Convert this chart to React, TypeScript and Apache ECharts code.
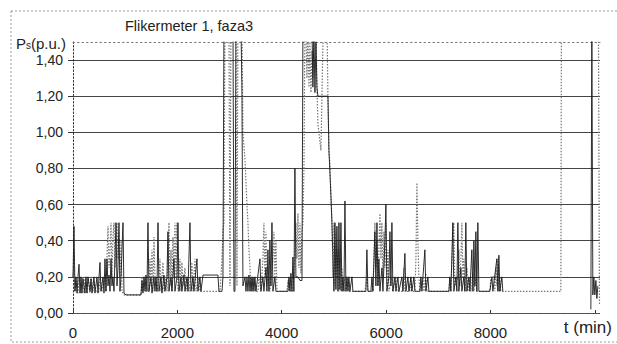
import React, { useEffect, useRef } from "react";
import * as echarts from "echarts";

const titleText = "Flikermeter 1, faza3";
const xTickLabels = [0, 2000, 4000, 6000, 8000];

// Black solid series: [t (min), Ps (p.u.)]
const blackSeries: [number, number | null][] = [
  [0, 0.2], [19, 0.48], [38, 0.12], [57, 0.2], [77, 0.11], [96, 0.2], [115, 0.27], [134, 0.11],
  [153, 0.2], [172, 0.11], [192, 0.19], [230, 0.11], [249, 0.2], [268, 0.11], [287, 0.2], [326, 0.12],
  [345, 0.19], [364, 0.11], [402, 0.2], [421, 0.11], [460, 0.2], [479, 0.11], [517, 0.28], [536, 0.12],
  [575, 0.2], [594, 0.11], [613, 0.3], [632, 0.12], [651, 0.3], [671, 0.15], [690, 0.21], [709, 0.12],
  [728, 0.3], [747, 0.15], [766, 0.2], [786, 0.12], [824, 0.5], [843, 0.15], [862, 0.25], [881, 0.5],
  [900, 0.12], [920, 0.2], [958, 0.5], [977, 0.11], [1015, 0.1], [1303, 0.1], [1322, 0.18], [1341, 0.11],
  [1360, 0.2], [1380, 0.12], [1399, 0.21], [1418, 0.12], [1437, 0.5], [1456, 0.12], [1494, 0.2], [1514, 0.11],
  [1552, 0.2], [1571, 0.12], [1590, 0.2], [1609, 0.12], [1629, 0.5], [1648, 0.12], [1686, 0.2], [1705, 0.11],
  [1744, 0.21], [1763, 0.12], [1801, 0.2], [1820, 0.45], [1839, 0.12], [1878, 0.2], [1897, 0.12], [1935, 0.3],
  [1954, 0.12], [1993, 0.2], [2012, 0.5], [2031, 0.12], [2069, 0.2], [2088, 0.12], [2127, 0.21], [2146, 0.12],
  [2184, 0.2], [2203, 0.12], [2242, 0.5], [2261, 0.12], [2299, 0.2], [2318, 0.12], [2376, 0.3], [2395, 0.12],
  [2433, 0.2], [2452, 0.12], [2491, 0.21], [2778, 0.21], [2797, 0.12], [2855, 0.12], [2874, 0.2], [2893, 1.6],
  [3066, 1.6], [3085, 0.12], [3104, 0.12], [3123, 1.6], [3219, 1.6], [3238, 1.22], [3257, 0.15], [3296, 0.2],
  [3315, 0.12], [3334, 0.2], [3353, 0.12], [3372, 0.21], [3392, 0.12], [3411, 0.2], [3430, 0.12], [3449, 0.2],
  [3468, 0.12], [3487, 0.2], [3506, 0.12], [3583, 0.3], [3602, 0.12], [3640, 0.2], [3659, 0.12], [3698, 0.25],
  [3717, 0.12], [3736, 0.35], [3755, 0.12], [3774, 0.4], [3794, 0.15], [3813, 0.5], [3832, 0.12], [3870, 0.2],
  [3889, 0.12], [4119, 0.12], [4138, 0.2], [4157, 0.12], [4177, 0.22], [4196, 0.12], [4215, 0.31], [4234, 0.12],
  [4253, 0.8], [4272, 0.2], [4311, 0.2], [4349, 0.18], [4388, 0.18], [4407, 1.6], [4579, 1.6], [4598, 1.25],
  [4618, 1.55], [4637, 1.22], [4656, 1.5], [4675, 1.25], [4694, 1.2], [4886, 1.2], [4905, 0.9], [4943, 0.65],
  [4962, 0.5], [5001, 0.12], [5020, 0.5], [5039, 0.13], [5058, 0.48], [5078, 0.12], [5097, 0.5],
  [5116, 0.13], [5135, 0.5], [5154, 0.12], [5173, 0.2], [5193, 0.12], [5212, 0.62], [5231, 0.12], [5250, 0.2],
  [5269, 0.12], [5288, 0.2], [5307, 0.12], [5346, 0.2], [5365, 0.12], [5614, 0.12], [5633, 0.35], [5652, 0.12],
  [5710, 0.12], [5729, 0.2], [5748, 0.12], [5786, 0.45], [5805, 0.15], [5825, 0.5], [5844, 0.15], [5863, 0.3],
  [5882, 0.12], [5920, 0.25], [5940, 0.12], [5978, 0.4], [5997, 0.6], [6016, 0.12], [6055, 0.2], [6074, 0.45],
  [6093, 0.15], [6112, 0.5], [6131, 0.12], [6170, 0.2], [6189, 0.12], [6227, 0.2], [6246, 0.12], [6304, 0.2],
  [6323, 0.12], [6361, 0.33], [6380, 0.12], [6419, 0.2], [6438, 0.12], [6476, 0.2], [6495, 0.12], [6534, 0.2],
  [6553, 0.12], [6648, 0.12], [6668, 0.2], [6687, 0.12], [6744, 0.35], [6763, 0.12], [6802, 0.2], [6821, 0.12],
  [7204, 0.12], [7223, 0.2], [7242, 0.12], [7280, 0.5], [7299, 0.12], [7338, 0.2], [7357, 0.12], [7376, 0.5],
  [7395, 0.12], [7434, 0.25], [7453, 0.12], [7491, 0.2], [7510, 0.12], [7529, 0.5], [7549, 0.12], [7587, 0.2],
  [7606, 0.12], [7644, 0.35], [7664, 0.12], [7683, 0.4], [7702, 0.15], [7721, 0.45], [7740, 0.12], [7759, 0.5],
  [7779, 0.12], [7989, 0.12], [8028, 0.2], [8047, 0.12], [8123, 0.3], [8143, 0.12], [8162, 0.32], [8181, 0.12],
  [8219, 0.2], [8238, 0.12], [8300, null], [9925, 0.02], [9944, 1.6], [9963, 0.1], [9982, 0.2], [10001, 0.1],
  [10021, 0.18], [10040, 0.08], [10059, 0.15],
];

// Grey dotted series: [t (min), Ps (p.u.)]
const greySeries: [number, number][] = [
  [0, 0.2], [19, 0.25], [38, 0.12], [57, 0.2], [96, 0.11], [115, 0.2], [153, 0.11], [172, 0.2],
  [211, 0.11], [230, 0.2], [268, 0.11], [287, 0.2], [326, 0.11], [345, 0.2], [383, 0.12], [402, 0.18],
  [441, 0.12], [498, 0.12], [517, 0.2], [555, 0.12], [594, 0.2], [632, 0.12], [651, 0.3], [671, 0.48],
  [690, 0.25], [709, 0.35], [728, 0.5], [747, 0.2], [766, 0.42], [786, 0.5], [805, 0.25], [824, 0.35],
  [843, 0.5], [862, 0.3], [881, 0.45], [900, 0.2], [920, 0.4], [939, 0.12], [977, 0.1], [1303, 0.1],
  [1322, 0.2], [1341, 0.12], [1380, 0.2], [1399, 0.12], [1456, 0.12], [1475, 0.3], [1494, 0.15], [1514, 0.35],
  [1533, 0.12], [1552, 0.42], [1571, 0.2], [1609, 0.12], [1648, 0.2], [1667, 0.3], [1686, 0.12], [1724, 0.28],
  [1744, 0.12], [1782, 0.2], [1801, 0.12], [1839, 0.5], [1859, 0.15], [1878, 0.35], [1897, 0.12], [1916, 0.42],
  [1935, 0.2], [1954, 0.5], [1974, 0.2], [1993, 0.5], [2012, 0.12], [2050, 0.3], [2069, 0.12], [2088, 0.28],
  [2108, 0.15], [2146, 0.25], [2165, 0.12], [2203, 0.2], [2223, 0.12], [2280, 0.28], [2299, 0.12], [2337, 0.3],
  [2357, 0.12], [2414, 0.2], [2433, 0.12], [2816, 0.12], [2835, 0.2], [2855, 0.3], [2874, 0.45], [2893, 0.5],
  [2912, 1.6], [2989, 1.6], [3008, 0.15], [3027, 1.6], [3123, 1.6], [3142, 0.15], [3161, 1.6], [3238, 1.6],
  [3257, 1.0], [3296, 0.85], [3334, 0.6], [3353, 0.5], [3372, 0.35], [3392, 0.25], [3411, 0.12], [3430, 0.2],
  [3449, 0.12], [3468, 0.2], [3506, 0.12], [3545, 0.12], [3564, 0.2], [3602, 0.12], [3640, 0.3], [3659, 0.5],
  [3679, 0.2], [3698, 0.45], [3717, 0.15], [3755, 0.2], [3774, 0.12], [3832, 0.3], [3851, 0.45], [3870, 0.2],
  [3889, 0.4], [3909, 0.12], [4100, 0.12], [4119, 0.18], [4138, 0.12], [4157, 0.2], [4177, 0.12], [4215, 0.12],
  [4234, 0.2], [4253, 0.35], [4272, 0.5], [4292, 0.3], [4311, 0.55], [4330, 0.25], [4349, 0.5], [4368, 0.22],
  [4388, 0.45], [4407, 0.5], [4426, 0.8], [4445, 1.6], [4464, 1.6], [4483, 1.3], [4503, 1.55], [4522, 1.25],
  [4541, 1.5], [4560, 1.22], [4579, 1.45], [4598, 1.3], [4618, 1.6], [4656, 1.6], [4675, 1.25], [4694, 1.05],
  [4713, 1.0], [4732, 0.95], [4752, 0.9], [4771, 1.2], [4790, 1.5], [4809, 1.6], [4867, 1.6], [4886, 1.2],
  [4905, 0.9], [4924, 0.83], [4943, 0.65], [4962, 0.52], [4982, 0.2], [5001, 0.5], [5020, 0.15], [5039, 0.45],
  [5058, 0.2], [5078, 0.35], [5097, 0.12], [5116, 0.3], [5135, 0.12], [5154, 0.25], [5173, 0.12], [5212, 0.2],
  [5231, 0.12], [5269, 0.2], [5288, 0.12], [5596, 0.12], [5633, 0.2], [5652, 0.12], [5748, 0.12], [5767, 0.3],
  [5786, 0.5], [5805, 0.25], [5825, 0.4], [5844, 0.15], [5863, 0.35], [5882, 0.55], [5901, 0.3], [5920, 0.5],
  [5940, 0.2], [5959, 0.45], [5978, 0.25], [5997, 0.5], [6016, 0.15], [6036, 0.35], [6055, 0.12], [6112, 0.2],
  [6131, 0.12], [6189, 0.2], [6208, 0.12], [6323, 0.12], [6342, 0.25], [6361, 0.12], [6457, 0.12], [6476, 0.2],
  [6495, 0.12], [6553, 0.12], [6572, 0.3], [6591, 0.72], [6610, 0.4], [6629, 0.2], [6648, 0.12], [6706, 0.2],
  [6725, 0.12], [6763, 0.22], [6783, 0.12], [7204, 0.12], [7223, 0.2], [7242, 0.12], [7280, 0.45], [7299, 0.5],
  [7318, 0.15], [7376, 0.2], [7395, 0.35], [7414, 0.15], [7434, 0.3], [7453, 0.5], [7472, 0.2], [7491, 0.3],
  [7510, 0.12], [7549, 0.25], [7568, 0.12], [7606, 0.2], [7625, 0.12], [7664, 0.22], [7683, 0.12], [7721, 0.2],
  [7740, 0.12], [7989, 0.12], [8008, 0.2], [8066, 0.2], [8085, 0.12], [8104, 0.25], [8123, 0.15], [8143, 0.3],
  [8162, 0.12], [8181, 0.2], [8200, 0.12], [9350, 0.12], [9360, 1.6], [10070, 1.6], [10090, 0.05],
];

const FONT = "'Liberation Sans', Arial, sans-serif";

export default function App() {
  const ref = useRef<HTMLDivElement>(null);
  useEffect(() => {
    const chart = echarts.init(ref.current!, null, { renderer: "svg" });
    chart.setOption({
      animation: false,
      backgroundColor: "#fff",
      grid: { left: 73, right: 17, top: 42, bottom: 31, containLabel: false },
      xAxis: [
        {
          type: "value",
          min: 0,
          max: 10100,
          interval: 2000,
          axisLine: { show: true, lineStyle: { color: "#555", width: 1, type: [4, 2] } },
          axisTick: { show: true, inside: true, length: 3, lineStyle: { color: "#333" } },
          splitLine: { show: false },
          axisLabel: {
            margin: 12,
            fontSize: 15,
            fontFamily: FONT,
            color: "#222",
            showMaxLabel: false,
            formatter: (v: number) => (xTickLabels.includes(v) ? String(v) : ""),
          },
        },
        {
          type: "value",
          position: "top",
          min: 0,
          max: 10100,
          axisLine: { show: true, onZero: false, lineStyle: { color: "#777", width: 1, type: [1.5, 3] } },
          axisTick: { show: false },
          axisLabel: { show: false },
          splitLine: { show: false },
        },
      ],
      yAxis: {
        type: "value",
        min: 0,
        max: 1.5,
        interval: 0.2,
        axisLine: { show: true, lineStyle: { color: "#333", width: 1, type: [1.5, 2] } },
        axisTick: { show: true, length: 5, lineStyle: { color: "#333" } },
        splitLine: { show: true, showMaxLine: false, lineStyle: { color: "#444", width: 1 } },
        axisLabel: {
          margin: 10,
          fontSize: 14,
          fontFamily: FONT,
          color: "#222",
          showMaxLabel: false,
          formatter: (v: number) => (v > 1.45 ? "" : v.toFixed(2).replace(".", ",")),
        },
      },
      graphic: [
        {
          type: "rect",
          shape: { x: 11, y: 11, width: 620, height: 331 },
          style: { fill: "none", stroke: "#999", lineWidth: 1, lineDash: [2, 2] },
          silent: true,
        },
        {
          type: "text",
          x: 189,
          y: 26,
          style: {
            text: titleText,
            fontSize: 14.5,
            fontFamily: FONT,
            fill: "#222",
            align: "center",
            verticalAlign: "middle",
          },
        },
        {
          type: "text",
          x: 16,
          y: 43,
          style: {
            text: "{a|P}{b|s}{a|(p.u.)}",
            fontFamily: FONT,
            verticalAlign: "middle",
            rich: {
              a: { fontSize: 15, fontFamily: FONT, fill: "#222", lineHeight: 15 },
              b: { fontSize: 10, fontFamily: FONT, fill: "#222", lineHeight: 15, verticalAlign: "bottom" },
            },
          },
        },
        {
          type: "text",
          x: 612,
          y: 327,
          style: {
            text: "t (min)",
            fontSize: 17,
            fontFamily: FONT,
            fill: "#222",
            align: "right",
            verticalAlign: "middle",
          },
        },
      ],
      series: [
        {
          type: "line",
          data: greySeries,
          showSymbol: false,
          symbol: "none",
          clip: true,
          lineStyle: { color: "#777", width: 1.2, type: [1.5, 1.5] },
          z: 2,
        },
        {
          type: "line",
          data: blackSeries,
          showSymbol: false,
          symbol: "none",
          clip: true,
          connectNulls: false,
          lineStyle: { color: "#1a1a1a", width: 0.9 },
          z: 3,
        },
      ],
    });
    return () => chart.dispose();
  }, []);
  return (
    <div
      ref={ref}
      style={{ position: "fixed", left: 0, top: 0, width: 617, height: 344, background: "#fff" }}
    />
  );
}
